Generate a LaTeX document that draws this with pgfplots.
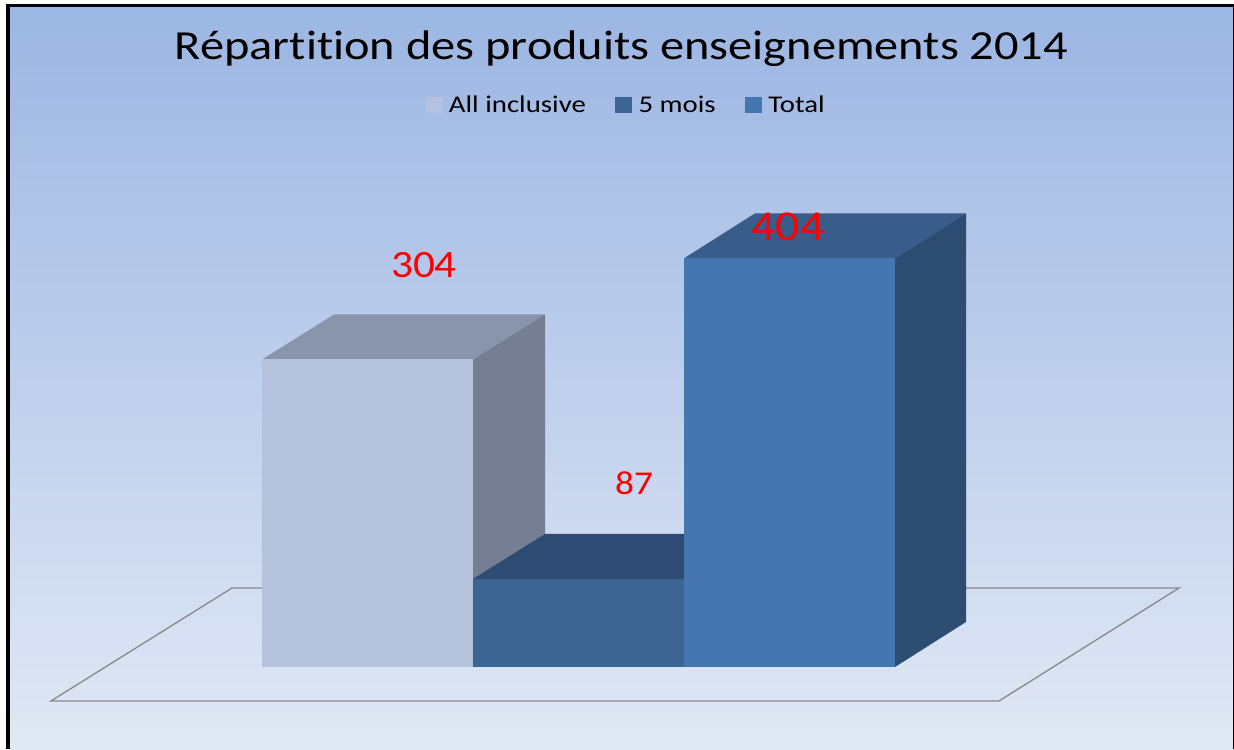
\documentclass[border=0pt]{standalone}
\usepackage{pgfplots}
\pgfplotsset{compat=1.18}
\usepackage{fontspec}
\setmainfont{Carlito}
\newfontfamily\widefont[FakeStretch=1.12]{Carlito}
\newfontfamily\titlefont[FakeStretch=1.17,Ligatures=NoCommon]{Carlito}
\newfontfamily\legfont[FakeStretch=1.2,Ligatures=NoCommon]{Carlito}
\definecolor{bgT}{HTML}{9CB6E3}
\definecolor{bgB}{HTML}{E1E8F5}
\definecolor{aF}{HTML}{B5C2DD}
\definecolor{aS}{HTML}{757E93}
\definecolor{aT}{HTML}{8995AB}
\definecolor{bF}{HTML}{3C6594}
\definecolor{bT}{HTML}{2E4C73}
\definecolor{cF}{HTML}{4676B0}
\definecolor{cS}{HTML}{2D4C72}
\definecolor{cT}{HTML}{395D8A}
\definecolor{fl}{HTML}{8A8A8A}
\pgfplotsset{sq/.style={ybar, bar width=211, bar shift=0pt, draw=none,
  legend image code/.code={\fill[##1] (0pt,-6pt) rectangle (12.5pt,6pt);}}}
\begin{document}
\begin{tikzpicture}
\begin{axis}[
  scale only axis, width=925.5pt, height=561.75pt,
  xmin=0, xmax=1234, ymin=-81.07, ymax=659.4,
  hide axis, clip=true,
  legend style={at={(rel axis cs:0.5077,0.8595)}, anchor=center, draw=none, fill=none,
    legend columns=3, font=\legfont\fontsize{18pt}{20pt}\selectfont, inner sep=0pt,
    /tikz/every even column/.append style={column sep=20pt}, text=black},
  legend cell align=left,
]
% background and frame
\fill[white] (rel axis cs:0,0) rectangle (rel axis cs:1,1);
\shade[top color=bgT, bottom color=bgB] (rel axis cs:{10/1234},0) rectangle (rel axis cs:1,{1-7/749});
\fill[black] (rel axis cs:{6/1234},{1-4/749}) rectangle (rel axis cs:1,{1-7.5/749});
\fill[black] (rel axis cs:{6/1234},0) rectangle (rel axis cs:{10/1234},{1-4/749});
\fill[black] (rel axis cs:{1232.7/1234},0) rectangle (rel axis cs:1,{1-4/749});
% floor
\addplot[fl, line width=1pt, forget plot] coordinates {(51,-33.6) (999,-33.6) (1179,78.1) (232,78.1)} -- cycle;
% All inclusive
\addplot[fill=aT, draw=none, forget plot] coordinates {(262,304) (473,304) (545,348.5) (334,348.5)} -- cycle;
\addplot[fill=aS, draw=none, forget plot] coordinates {(473,304) (545,348.5) (545,44.5) (473,0)} -- cycle;
\addplot[sq, fill=aF] coordinates {(367.5,304)};
\addlegendentry{\hspace{3pt}All inclusive}
% 5 mois
\addplot[fill=bT, draw=none, forget plot] coordinates {(473,87) (684,87) (756,131.5) (545,131.5)} -- cycle;
\addplot[sq, fill=bF] coordinates {(578.5,87)};
\addlegendentry{\hspace{3pt}5 mois}
% Total
\addplot[fill=cT, draw=none, forget plot] coordinates {(684,404) (895,404) (966,448.5) (755,448.5)} -- cycle;
\addplot[fill=cS, draw=none, forget plot] coordinates {(895,404) (966,448.5) (966,44.5) (895,0)} -- cycle;
\addplot[sq, fill=cF] coordinates {(789.5,404)};
\addlegendentry{\hspace{3pt}Total}
% labels
\node[red, font=\widefont\fontsize{29pt}{32pt}\selectfont, inner sep=0pt] at (axis cs:424,397) {304};
\node[red, font=\widefont\fontsize{25pt}{28pt}\selectfont, inner sep=0pt] at (axis cs:634,181.5) {87};
\node[red, font=\widefont\fontsize{32pt}{35pt}\selectfont, inner sep=0pt] at (axis cs:788,435) {404};
% title
\node[black, font=\titlefont\fontsize{31pt}{34pt}\selectfont, inner sep=0pt] at (rel axis cs:{621.5/1234},{1-49/749}) {Répartition des produits enseignements 2014};
\end{axis}
\end{tikzpicture}
\end{document}
